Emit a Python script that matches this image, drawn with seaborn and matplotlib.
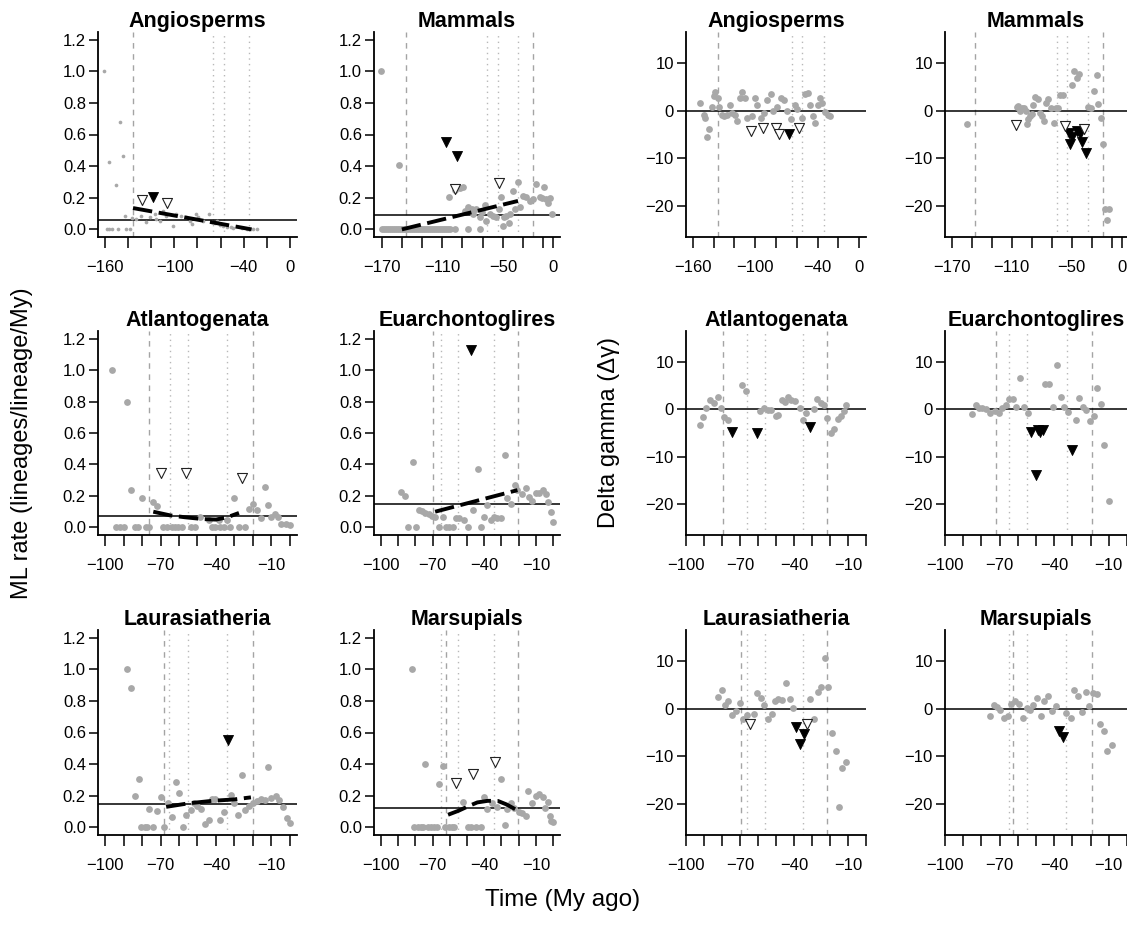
import matplotlib
matplotlib.use("Agg")
import matplotlib.pyplot as plt
import seaborn as sns
import pandas as pd

sns.set_style("ticks")
plt.rcParams['font.family'] = ['Liberation Sans', 'DejaVu Sans']
plt.rcParams['text.color'] = 'black'
plt.rcParams['axes.labelcolor'] = 'black'
plt.rcParams['xtick.color'] = 'black'
plt.rcParams['ytick.color'] = 'black'

# ---------------- DATA ----------------
# Row 1, ML rate, Angiosperms
ang_ml_pts = [(-161, 1.0), (-157, 0.425), (-151, 0.28), (-147, 0.678), (-145, 0.467),
              (-159, 0), (-156.5, 0), (-154, 0), (-149, 0), (-142, 0), (-139, 0), (-143, 0.087),
              (-136.5, 0.072), (-133.7, 0.066), (-128.7, 0.087), (-125, 0.044), (-121.5, 0.076),
              (-117.1, 0.097), (-115.7, 0.066), (-112.8, 0.055), (-109.9, 0.118), (-107, 0.087),
              (-101.2, 0.023), (-98.3, 0.097), (-93.9, 0.087), (-90.2, 0.076), (-86.7, 0.055),
              (-85.2, 0.034), (-81.5, 0.097), (-79.5, 0.076), (-75.1, 0.055), (-69.9, 0.097),
              (-67.8, 0.044), (-65, 0.038), (-62.9, 0.055), (-60.6, 0.030), (-57.7, 0.023),
              (-54.8, 0.013), (-51.3, 0.013), (-49, 0.008), (-41.7, 0.006), (-37.4, 0.004),
              (-31.6, 0.002), (-28.7, 0.004)]
ang_ml_filled = [(-118.5, 0.207)]
ang_ml_open = [(-128, 0.188), (-106.5, 0.167)]
ang_ml_fit = [(-136, 0.135), (-33, 0.0)]
ang_ml_mean = 0.061
ang_ml_dashed = [-136]
ang_ml_dotted = [-66.5, -57, -35]

# Row 1, ML rate, Mammals
mam_ml_zero_x = [-170, -168, -166, -164, -162, -160, -158, -156, -154, -152, -150, -148, -146,
                 -144, -142, -140, -138, -136, -134, -132, -130, -128, -126, -124, -122, -120,
                 -118, -116, -114, -112, -110, -108, -106, -104, -102, -97.5, -85, -72.8]
mam_ml_pts = [(-171, 1.0), (-153, 0.41), (-103, 0.203), (-97.5, 0.25), (-92.6, 0.26),
              (-89.3, 0.266), (-87.6, 0.118), (-84.3, 0.139), (-81, 0.129), (-79.4, 0.097),
              (-76.1, 0.129), (-72.8, 0.076), (-70.2, 0.108), (-67.9, 0.156), (-66.2, 0.055),
              (-62.9, 0.097), (-59.6, 0.087), (-56.3, 0.076), (-54, 0.129), (-51.4, 0.203),
              (-49.1, 0.08), (-46.4, 0.087), (-43.1, 0.097), (-39.9, 0.241), (-38.2, 0.129),
              (-34.9, 0.298), (-33.3, 0.139), (-30, 0.213), (-26.7, 0.203), (-23.4, 0.182),
              (-20.1, 0.192), (-16.8, 0.287), (-13.5, 0.203), (-50, 0.023), (-43.5, 0.038),
              (-11, 0.2), (-9, 0.27), (-7, 0.19), (-5, 0.17), (-3, 0.2), (-1, 0.1)]
mam_ml_filled = [(-106, 0.55), (-95, 0.467)]
mam_ml_open = [(-97.5, 0.256), (-54, 0.294)]
mam_ml_fit = [(-150, 0.0), (-35, 0.18)]
mam_ml_mean = 0.093
mam_ml_dashed = [-146, -20.5]
mam_ml_dotted = [-65.5, -54.7, -35]

# Row 1, Delta gamma, Angiosperms
ang_dg_pts = [(-152.7, 1.7), (-149.5, -0.9), (-148.2, -1.5), (-146.3, -5.6), (-144, -3.8),
              (-141.8, 0.8), (-140, 3.1), (-138.7, 4.0), (-136, 2.6), (-134.5, 0.8),
              (-132.3, -0.8), (-129.7, -1.1), (-126.6, -0.9), (-124, 1.3), (-121.8, -0.4),
              (-119.6, -0.8), (-117.6, -2.2), (-114.8, 2.7), (-112.2, 4.0), (-110, 2.7),
              (-107.5, -1.5), (-102.7, -1.1), (-100.4, 2.6), (-97.9, 1.3), (-94.7, -1.5),
              (-91.5, -0.4), (-88.3, 2.2), (-85.2, 3.5), (-82.6, -0.1), (-79.4, 0.8),
              (-75, 2.6), (-72.4, 2.2), (-69.2, -0.1), (-66, -1.8), (-62.2, 1.3), (-59.7, 0.3),
              (-54.9, -1.5), (-51.7, 3.5), (-49.5, 3.8), (-47, 1.2), (-44.4, -1.1), (-42.2, -2.5),
              (-39.9, 1.3), (-38, 2.6), (-35.8, 1.7), (-32.6, -0.2), (-30.4, -0.9), (-27.8, -1.1)]
ang_dg_filled = [(-67.6, -4.9)]
ang_dg_open = [(-104.3, -4.3), (-92.2, -3.6), (-80.4, -3.6), (-77.2, -4.8), (-58.1, -3.6)]
ang_dg_dashed = [-135.5]
ang_dg_dotted = [-65.1, -54.9, -34.2]

# Row 1, Delta gamma, Mammals
mam_dg_pts = [(-154.3, -2.7), (-105, 0.8), (-103.3, 1.0), (-101.7, -0.07), (-100, 0.5),
              (-97.7, 0.6), (-95.7, -0.07), (-95, -2.7), (-93.3, -1.8), (-91.7, -1.1),
              (-90, -0.7), (-88.3, 1.2), (-86.7, 3.0), (-84, 2.4), (-81.7, -0.4), (-80, -1.1),
              (-77.7, -2.2), (-75.7, 1.7), (-73.3, 2.4), (-71, 0.5), (-67.7, -2.5), (-65.7, 0.5),
              (-63.3, 0.6), (-61.7, 3.3), (-59, 3.3), (-49.7, 5.4), (-47.3, 8.4), (-45, 7.0),
              (-43, 7.7), (-33.3, 0.8), (-31, 0.5), (-27.7, 4.2), (-25, 7.5), (-23.3, 1.5),
              (-21, -1.6), (-19, -6.9), (-16.7, -20.7), (-15, -23), (-12.3, -20.8)]
mam_dg_filled = [(-53, -4.6), (-52, -7.1), (-50, -5.5), (-45, -4.2), (-42, -4.8),
                 (-40, -6.5), (-36, -8.9)]
mam_dg_open = [(-106, -3.0), (-56.7, -3.2), (-37.3, -3.9)]
mam_dg_dashed = [-146.7, -18.3]
mam_dg_dotted = [-65, -54.3, -33.3]

# Row 2, ML rate, Atlantogenata
atl_ml_pts = [(-96.2, 1.0), (-88.2, 0.8), (-86.2, 0.237), (-80, 0.188), (-74, 0.163),
              (-72.2, 0.135), (-94, 0), (-92.2, 0), (-90, 0), (-84, 0), (-82.2, 0), (-78, 0),
              (-76.2, 0), (-68.5, 0), (-66.4, 0), (-64, 0), (-62.2, 0), (-60.4, 0), (-58.5, 0),
              (-53.6, 0), (-51.6, 0), (-42.2, 0), (-40.4, 0), (-38, 0), (-35.8, 0), (-32.2, 0),
              (-27.6, 0), (-24, 0), (-48.5, 0.068), (-44, 0.05), (-38.5, 0.047), (-34, 0.05),
              (-30.4, 0.184), (-22.2, 0.12), (-19.8, 0.152), (-17.6, 0.11), (-15.8, 0.057),
              (-13.6, 0.258), (-11.8, 0.142), (-10, 0.068), (-8.2, 0.085), (-6.4, 0.068),
              (-4.5, 0.025), (-2.2, 0.021), (0.2, 0.013)]
atl_ml_filled = []
atl_ml_open = [(-70, 0.347), (-56.2, 0.343), (-25.8, 0.311)]
atl_ml_fit = [(-74, 0.10), (-65, 0.077), (-57, 0.065), (-47, 0.053), (-40, 0.05),
              (-34, 0.064), (-27.5, 0.092)]
atl_ml_mean = 0.072
atl_ml_dashed = [-76.2, -19.8]
atl_ml_dotted = [-64.9, -54.9, -34]

# Row 2, ML rate, Euarchontoglires
eua_ml_pts = [(-88.4, 0.226), (-85.9, 0.2), (-81.6, 0.413), (-84, 0), (-79.7, 0),
              (-78.1, 0.114), (-76.2, 0.106), (-74.3, 0.093), (-72.3, 0.085), (-70.4, 0.072),
              (-68.5, 0.068), (-66.2, 0), (-64.2, 0.068), (-62.3, 0), (-60.3, 0), (-58.4, 0),
              (-56.5, 0.057), (-54.5, 0.057), (-51.6, 0.05), (-49.7, 0), (-46.4, 0.11),
              (-43.9, 0.37), (-42, 0), (-40, 0.068), (-38.1, 0.142), (-36.2, 0.047),
              (-34.2, 0.068), (-32.3, 0.057), (-30.4, 0.063), (-28, 0.459), (-26.5, 0.184),
              (-24.6, 0.152), (-22.2, 0.269), (-20.7, 0.237), (-18.2, 0.212), (-15.9, 0.248),
              (-13.9, 0.195), (-12, 0.169), (-9.7, 0.22), (-8, 0.22), (-6, 0.24), (-4, 0.21),
              (-3, 0.16), (-1.5, 0.1), (0, 0.035)]
eua_ml_filled = [(-47.8, 1.13)]
eua_ml_open = []
eua_ml_fit = [(-68.5, 0.1), (-20.7, 0.237)]
eua_ml_mean = 0.146
eua_ml_dashed = [-70, -20.3]
eua_ml_dotted = [-65.2, -55.5, -34.2]

# Row 2, Delta gamma, Atlantogenata
atl_dg_pts = [(-92.4, -3.4), (-90.5, -1.6), (-88.7, 0.35), (-86.9, 1.9), (-84.7, 1.3),
              (-82.4, 2.6), (-80.5, 0.35), (-78.7, -1.6), (-76.4, -2.2), (-68.7, 5.1),
              (-66.5, 3.9), (-58.7, -0.35), (-56.9, 0.35), (-54.5, -0.2), (-52.7, -0.1),
              (-50.2, -1.5), (-48.7, -1.1), (-46.9, 2.0), (-45.1, 1.5), (-43.3, 2.6),
              (-41.5, 2.0), (-39.3, 1.8), (-36.9, 0.35), (-35.1, -2.2), (-33.3, -0.8),
              (-29.1, 0.14), (-27.3, 2.25), (-25.1, 1.3), (-23.3, 0.85), (-21.5, -1.8),
              (-19.6, -5.0), (-17.8, -4.1), (-15.6, -2.0), (-13.8, -1.5), (-12.4, -0.35),
              (-11, 1.0)]
atl_dg_filled = [(-74.5, -4.8), (-60.5, -5.0), (-30.9, -3.7)]
atl_dg_open = []
atl_dg_dashed = [-79.6, -21.5]
atl_dg_dotted = [-66, -56, -35.1]

# Row 2, Delta gamma, Euarchontoglires
eua_dg_pts = [(-84.9, -0.9), (-83.1, 0.85), (-81.3, 0.35), (-79.5, 0.35), (-77.3, 0.14),
              (-75.1, -0.8), (-72.7, -0.35), (-70.4, -0.8), (-68.5, 0.35), (-66.7, 0.85),
              (-64.9, 2.25), (-62.7, 2.25), (-60.9, 0.6), (-58.7, 6.7), (-56.4, 0.6),
              (-54.5, -0.8), (-44.9, 5.4), (-42.7, 5.3), (-40.4, 0.6), (-38.2, 9.5),
              (-36.4, 2.6), (-34.5, 0.6), (-32.2, -0.6), (-28.2, -2.3), (-26.4, 2.4),
              (-24.2, 0.5), (-22.4, -0.1), (-20.5, -2.5), (-18.2, -1.3), (-16.4, 4.6),
              (-14.2, 1.2), (-12.4, -7.6), (-10, -19.4)]
eua_dg_filled = [(-52.7, -4.8), (-50, -13.9), (-48.7, -4.4), (-47.8, -4.8), (-46.4, -4.4),
                 (-30, -8.7)]
eua_dg_open = []
eua_dg_dashed = [-71.8, -19.5]
eua_dg_dotted = [-64.9, -54.9, -33.1]

# Row 3, ML rate, Laurasiatheria
lau_ml_pts = [(-88, 1.0), (-86.2, 0.884), (-84, 0.198), (-81.8, 0.305), (-80.4, 0), (-78.5, 0),
              (-77.6, 0), (-76.2, 0.118), (-74, 0), (-72.2, 0.105), (-70, 0.19), (-68, 0),
              (-66.2, 0.156), (-64, 0.067), (-61.8, 0.284), (-59.8, 0.215), (-58, 0),
              (-56.2, 0.078), (-53.6, 0.109), (-51.8, 0.156), (-50, 0.135), (-48, 0.114),
              (-46.2, 0.019), (-44, 0.046), (-42.2, 0.177), (-40.4, 0.177), (-38, 0.046),
              (-35.8, 0.097), (-31.8, 0.204), (-30, 0.152), (-28.2, 0.078), (-25.8, 0.331),
              (-24, 0.109), (-22, 0.135), (-19.8, 0.152), (-17.6, 0.168), (-15.8, 0.177),
              (-13.6, 0.173), (-11.8, 0.383), (-10, 0.183), (-7.6, 0.198), (-5.8, 0.173),
              (-3.5, 0.131), (-1.6, 0.057), (0.2, 0.029)]
lau_ml_filled = [(-33.6, 0.552)]
lau_ml_open = []
lau_ml_fit = [(-67, 0.13), (-55, 0.152), (-42, 0.168), (-30, 0.177), (-21, 0.19)]
lau_ml_mean = 0.147
lau_ml_dashed = [-68, -19.8]
lau_ml_dotted = [-65.3, -54.9, -34]

# Row 3, ML rate, Marsupials
mar_ml_pts = [(-82, 1.0), (-74.3, 0.4), (-66.2, 0.274), (-64.2, 0.39), (-80.7, 0), (-78.7, 0),
              (-76.8, 0), (-75.4, 0), (-72.9, 0), (-71, 0), (-69.1, 0), (-67.7, 0), (-62.7, 0),
              (-60.7, 0), (-58.8, 0), (-57.4, 0), (-49.7, 0), (-47.8, 0), (-44.5, 0), (-42, 0),
              (-52.2, 0.162), (-40, 0.19), (-38.1, 0.114), (-35.6, 0.152), (-32.3, 0.131),
              (-30.4, 0.309), (-28, 0.015), (-26.5, 0.114), (-24.6, 0.152), (-22.6, 0.12),
              (-19.7, 0.099), (-17.8, 0.088), (-15.9, 0.072), (-14.3, 0.232), (-12, 0.152),
              (-9.7, 0.198), (-8, 0.21), (-6, 0.19), (-4.5, 0.12), (-3, 0.16), (-2, 0.07),
              (-1, 0.04), (0, 0.035)]
mar_ml_filled = []
mar_ml_open = [(-56.1, 0.282), (-46.4, 0.337), (-33.8, 0.415)]
mar_ml_fit = [(-61, 0.08), (-55, 0.105), (-49, 0.135), (-44, 0.158), (-38, 0.168),
              (-32, 0.167), (-27, 0.145), (-21.5, 0.112)]
mar_ml_mean = 0.124
mar_ml_dashed = [-62.3, -20.3]
mar_ml_dotted = [-65.2, -55.5, -34.2]

# Row 3, Delta gamma, Laurasiatheria
lau_dg_pts = [(-82.2, 2.5), (-80.2, 4.0), (-78.2, 0.9), (-76.4, 1.6), (-74.2, -1.4),
              (-72.4, -0.5), (-70.2, 1.2), (-68.4, -2.1), (-66, -1.4), (-62.4, -1.1),
              (-60.5, 3.3), (-58.2, 2.3), (-56.4, 0.7), (-54.5, -2.1), (-52.4, -1.2),
              (-50.5, 1.6), (-48.7, 2.1), (-46.5, 1.8), (-44.7, 5.5), (-42.5, 2.0),
              (-40.7, 0.2), (-30.9, 2.0), (-28.7, -2.1), (-26.9, 3.5), (-25.1, 4.6),
              (-22.9, 10.8), (-21.1, 4.6), (-18.7, -5.1), (-16.9, -8.9), (-14.9, -20.6),
              (-13.3, -12.5), (-11, -11.3)]
lau_dg_filled = [(-38.7, -3.9), (-34.2, -5.4), (-36.9, -7.5)]
lau_dg_open = [(-64.2, -3.2), (-32.7, -3.2)]
lau_dg_dashed = [-69.3, -21.5]
lau_dg_dotted = [-66, -56, -35.1]

# Row 3, Delta gamma, Marsupials
mar_dg_pts = [(-75.5, -1.5), (-73.3, 0.9), (-71.5, 0.35), (-69.6, -0.35), (-67.6, -1.9),
              (-65.5, -1.6), (-63.6, 1.1), (-61.8, 1.6), (-59.5, 1.1), (-57.3, -1.9),
              (-55.1, 0.2), (-53.3, -0.2), (-51.5, 0.7), (-49.5, 2.2), (-47.3, -1.5),
              (-45.5, 1.6), (-43.3, 2.7), (-41.3, -0.5), (-39.1, 0.5), (-33.3, -0.9),
              (-31, -1.9), (-29.1, 4.0), (-27.1, 2.7), (-25, -0.7), (-22.7, 3.5), (-20.9, 0.5),
              (-18.7, 3.3), (-16.7, 3.2), (-14.9, -3.3), (-12.7, -4.7), (-10.9, -8.8),
              (-8.5, -7.7)]
mar_dg_filled = [(-37.3, -4.6), (-35.1, -6.0)]
mar_dg_open = []
mar_dg_dashed = [-62.4, -19.5]
mar_dg_dotted = [-64.9, -54.9, -33.3]

# axis ticks / labels
ml_yticks = [0, 0.2, 0.4, 0.6, 0.8, 1.0, 1.2]
ml_ylabels = ["0.0", "0.2", "0.4", "0.6", "0.8", "1.0", "1.2"]
dg_yticks = [-20, -10, 0, 10]
dg_ylabels = ["\u221220", "\u221210", "0", "10"]
ang_xticks = [-160, -140, -120, -100, -80, -60, -40, -20, 0]
ang_xlabels = ["\u2212160", "", "", "\u2212100", "", "", "\u221240", "", "0"]
mam_xticks = [-170, -150, -130, -110, -90, -70, -50, -30, -10, 0]
mam_xlabels = ["\u2212170", "", "", "\u2212110", "", "", "\u221250", "", "", "0"]
clade_xticks = [-100, -90, -80, -70, -60, -50, -40, -30, -20, -10, 0]
clade_xlabels = ["\u2212100", "", "", "\u221270", "", "", "\u221240", "", "", "\u221210", ""]

# ---------------- LAYOUT ----------------
W, H = 1127, 926
fig = plt.figure(figsize=(W / 100, H / 100), dpi=100)
fig.patch.set_facecolor("white")

rows = [(32, 237), (331, 535), (630, 835)]
cols = [(98, 297), (374, 560), (686, 866), (945, 1127)]

GRAY = "#a8a8a8"
VGRAY = "#a4a4a4"


def make_ax(r, c):
    x0, x1 = cols[c]
    y0, y1 = rows[r]
    return fig.add_axes([x0 / W, 1 - y1 / H, (x1 - x0) / W, (y1 - y0) / H])


def panel(ax, title, pts, filled, opened, dashed, dotted, xlim, ylim, xticks, xlabels,
          yticks, ylabels, fit=None, hline=0.0, small=False):
    for v in dashed:
        ax.axvline(v, color=VGRAY, lw=1.0, ls=(0, (4, 4)), zorder=1)
    for v in dotted:
        ax.axvline(v, color="#b8b8b8", lw=1.0, ls=(0, (1, 3)), zorder=1)
    ax.axhline(hline, color="black", lw=1.1, zorder=2)
    df = pd.DataFrame(pts, columns=["x", "y"])
    sns.scatterplot(data=df, x="x", y="y", ax=ax, color=GRAY, s=(7 if small else 24),
                    linewidth=0, legend=False, zorder=3)
    if fit is not None:
        fdf = pd.DataFrame(fit, columns=["x", "y"])
        sns.lineplot(data=fdf, x="x", y="y", ax=ax, color="black", lw=2.8,
                     linestyle=(0, (5, 1.7)), estimator=None, sort=False, zorder=4)
    if filled:
        tdf = pd.DataFrame(filled, columns=["x", "y"])
        sns.scatterplot(data=tdf, x="x", y="y", ax=ax, marker="v", color="black",
                        edgecolor="black", s=52, linewidth=0.6, legend=False, zorder=5)
    if opened:
        odf = pd.DataFrame(opened, columns=["x", "y"])
        sns.scatterplot(data=odf, x="x", y="y", ax=ax, marker="v", color="white",
                        edgecolor="#222222", s=52, linewidth=0.8, legend=False, zorder=5)
    ax.set_xlim(*xlim)
    ax.set_ylim(*ylim)
    ax.set_xticks(xticks)
    ax.set_xticklabels(xlabels)
    ax.set_yticks(yticks)
    ax.set_yticklabels(ylabels)
    ax.set_xlabel("")
    ax.set_ylabel("")
    for s in ["top", "right"]:
        ax.spines[s].set_visible(False)
    for s in ["left", "bottom"]:
        ax.spines[s].set_linewidth(1.3)
        ax.spines[s].set_color("black")
    ax.tick_params(axis="x", direction="out", length=8, width=1.1, pad=8.5,
                   labelsize=12, colors="black")
    ax.tick_params(axis="y", direction="out", length=6.5, width=1.1, pad=2.2,
                   labelsize=12, colors="black")
    ax.set_title(title, fontsize=15.5, fontweight="bold", pad=1, color="black")
    ax.set_facecolor("white")
    ax.grid(False)


ML_YLIM = (-0.048, 1.248)
DG_YLIM = (-26.6, 16.6)

panel(make_ax(0, 0), "Angiosperms", ang_ml_pts, ang_ml_filled, ang_ml_open, ang_ml_dashed,
      ang_ml_dotted, (-166.4, 6.4), ML_YLIM, ang_xticks, ang_xlabels, ml_yticks, ml_ylabels,
      fit=ang_ml_fit, hline=ang_ml_mean, small=True)

mam_all = mam_ml_pts + [(x, 0.0) for x in mam_ml_zero_x]
panel(make_ax(0, 1), "Mammals", mam_all, mam_ml_filled, mam_ml_open, mam_ml_dashed,
      mam_ml_dotted, (-177.6, 6.6), ML_YLIM, mam_xticks, mam_xlabels, ml_yticks, ml_ylabels,
      fit=mam_ml_fit, hline=mam_ml_mean)

panel(make_ax(0, 2), "Angiosperms", ang_dg_pts, ang_dg_filled, ang_dg_open, ang_dg_dashed,
      ang_dg_dotted, (-166.4, 6.4), DG_YLIM, ang_xticks, ang_xlabels, dg_yticks, dg_ylabels)

panel(make_ax(0, 3), "Mammals", mam_dg_pts, mam_dg_filled, mam_dg_open, mam_dg_dashed,
      mam_dg_dotted, (-176.7, 5.3), DG_YLIM, mam_xticks, mam_xlabels, dg_yticks, dg_ylabels)

panel(make_ax(1, 0), "Atlantogenata", atl_ml_pts, atl_ml_filled, atl_ml_open, atl_ml_dashed,
      atl_ml_dotted, (-104, 4), ML_YLIM, clade_xticks, clade_xlabels, ml_yticks, ml_ylabels,
      fit=atl_ml_fit, hline=atl_ml_mean)

panel(make_ax(1, 1), "Euarchontoglires", eua_ml_pts, eua_ml_filled, eua_ml_open, eua_ml_dashed,
      eua_ml_dotted, (-104, 4), ML_YLIM, clade_xticks, clade_xlabels, ml_yticks, ml_ylabels,
      fit=eua_ml_fit, hline=eua_ml_mean)

panel(make_ax(1, 2), "Atlantogenata", atl_dg_pts, atl_dg_filled, atl_dg_open, atl_dg_dashed,
      atl_dg_dotted, (-100, -1.8), DG_YLIM, clade_xticks, clade_xlabels, dg_yticks, dg_ylabels)

panel(make_ax(1, 3), "Euarchontoglires", eua_dg_pts, eua_dg_filled, eua_dg_open, eua_dg_dashed,
      eua_dg_dotted, (-100, -0.7), DG_YLIM, clade_xticks, clade_xlabels, dg_yticks, dg_ylabels)

panel(make_ax(2, 0), "Laurasiatheria", lau_ml_pts, lau_ml_filled, lau_ml_open, lau_ml_dashed,
      lau_ml_dotted, (-104, 4), ML_YLIM, clade_xticks, clade_xlabels, ml_yticks, ml_ylabels,
      fit=lau_ml_fit, hline=lau_ml_mean)

panel(make_ax(2, 1), "Marsupials", mar_ml_pts, mar_ml_filled, mar_ml_open, mar_ml_dashed,
      mar_ml_dotted, (-104, 4), ML_YLIM, clade_xticks, clade_xlabels, ml_yticks, ml_ylabels,
      fit=mar_ml_fit, hline=mar_ml_mean)

panel(make_ax(2, 2), "Laurasiatheria", lau_dg_pts, lau_dg_filled, lau_dg_open, lau_dg_dashed,
      lau_dg_dotted, (-100, -1.8), DG_YLIM, clade_xticks, clade_xlabels, dg_yticks, dg_ylabels)

panel(make_ax(2, 3), "Marsupials", mar_dg_pts, mar_dg_filled, mar_dg_open, mar_dg_dashed,
      mar_dg_dotted, (-100, -0.7), DG_YLIM, clade_xticks, clade_xlabels, dg_yticks, dg_ylabels)

fig.text(22 / W, 1 - 443 / H, "ML rate (lineages/lineage/My)", rotation=90,
         ha="center", va="center", fontsize=17, color="black")
fig.text(609 / W, 1 - 432 / H, "Delta gamma (\u0394\u03b3)", rotation=90,
         ha="center", va="center", fontsize=17, color="black")
fig.text(563 / W, 1 - 900 / H, "Time (My ago)", ha="center", va="center", fontsize=17.5,
         color="black")

fig.savefig("out.png", dpi=100, facecolor="white")
